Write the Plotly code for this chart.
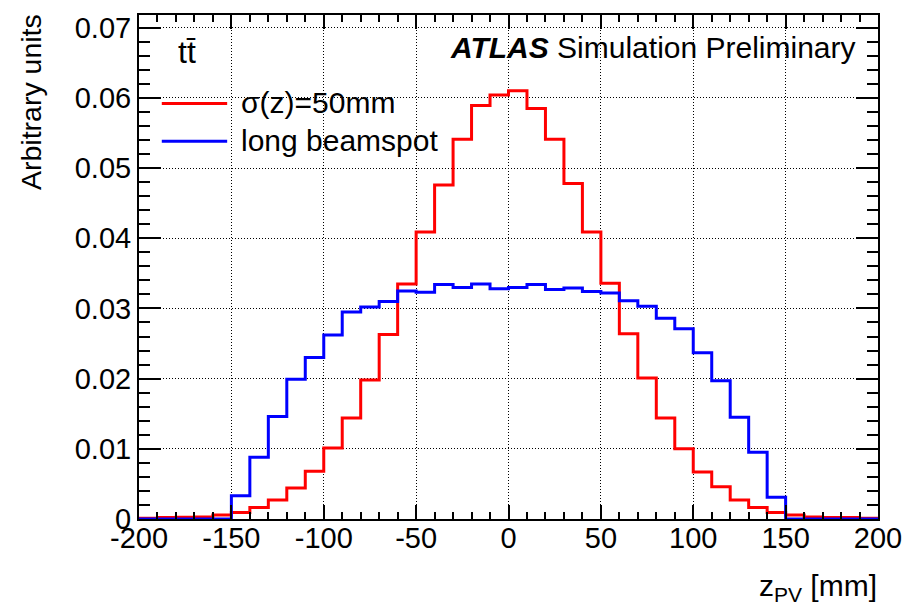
import plotly.graph_objects as go

# ---------------- data ----------------
bin_edges = list(range(-200, 201, 10))  # z_PV bin edges [mm]

sigma50mm = [
    0.0001, 0.0002, 0.00024, 0.00028, 0.00057, 0.00094, 0.00165, 0.0027, 0.0044, 0.0068,
    0.0101, 0.0144, 0.0198, 0.0263, 0.0335, 0.0409, 0.0476, 0.0541, 0.0589, 0.0604,
    0.0610, 0.0585, 0.0541, 0.0478, 0.0409, 0.0336, 0.0264, 0.0201, 0.0144, 0.0100,
    0.0067, 0.0046, 0.0027, 0.00165, 0.00094, 0.00057, 0.0003, 0.0002, 0.0002, 0.0001,
]

long_beamspot = [
    0.0, 0.0, 0.0, 0.0, 0.0, 0.0033, 0.0088, 0.0146, 0.0199, 0.0230,
    0.0262, 0.0295, 0.0302, 0.0310, 0.0325, 0.0323, 0.0334, 0.0330, 0.0335, 0.0328,
    0.0330, 0.0334, 0.0327, 0.0329, 0.0324, 0.0322, 0.0311, 0.0303, 0.0286, 0.0271,
    0.0237, 0.0197, 0.0145, 0.0095, 0.0031, 0.0, 0.0, 0.0, 0.0, 0.0,
]

x_tick_vals = [-200, -150, -100, -50, 0, 50, 100, 150, 200]
x_tick_text = ["-200", "-150", "-100", "-50", "0", "50", "100", "150", "200"]
y_tick_vals = [0, 0.01, 0.02, 0.03, 0.04, 0.05, 0.06, 0.07]
y_tick_text = ["0", "0.01", "0.02", "0.03", "0.04", "0.05", "0.06", "0.07"]

series_names = ["σ(z)=50mm", "long beamspot"]
series_colors = ["#ff0000", "#0000ff"]

# ---------------- geometry ----------------
W, H = 914, 606
ML, MR, MT, MB = 139, 29, 12, 87
PW = W - ML - MR
PH = H - MT - MB
FONT = "Liberation Sans, Arial, Helvetica, sans-serif"


def px(x):
    return (x - ML) / PW


def py(y):
    return (H - MB - y) / PH


fig = go.Figure()
for name, vals, col in zip(series_names, [sigma50mm, long_beamspot], series_colors):
    fig.add_trace(go.Scatter(
        x=bin_edges, y=vals + [vals[-1]], mode="lines", line_shape="hv",
        line=dict(color=col, width=3), name=name, showlegend=False,
    ))

axis_common = dict(
    showline=True, linecolor="black", linewidth=2, mirror="ticks",
    ticks="inside", tickcolor="black", tickwidth=1.5,
    showgrid=True, gridcolor="black", gridwidth=1, griddash="1px,2px",
    zeroline=False, tickfont=dict(family=FONT, size=29, color="black"),
)

fig.update_xaxes(
    range=[-200, 200], tickmode="array", tickvals=x_tick_vals, ticktext=x_tick_text,
    ticklen=14, ticklabelstandoff=-8,
    minor=dict(tickmode="linear", tick0=-200, dtick=10, ticks="inside", ticklen=7,
               tickcolor="black", tickwidth=1.5, showgrid=False),
    **axis_common,
)
fig.update_yaxes(
    range=[0, 0.07181], tickmode="array", tickvals=y_tick_vals, ticktext=y_tick_text,
    ticklen=22, ticklabelstandoff=0,
    minor=dict(tickmode="linear", tick0=0, dtick=0.002, ticks="inside", ticklen=11,
               tickcolor="black", tickwidth=1.5, showgrid=False),
    **axis_common,
)

annotations = [
    dict(text="Arbitrary units", x=px(30), y=py(9), xanchor="center", yanchor="top",
         textangle=-90, font=dict(size=28.5)),
    dict(text="z<sub>PV</sub> [mm]", x=px(886), y=py(588), xanchor="right", yanchor="middle",
         font=dict(size=30)),
    dict(text="<b><i>ATLAS</i></b> Simulation Preliminary", x=px(865), y=py(45),
         xanchor="right", yanchor="middle", font=dict(size=30)),
    dict(text="tt\u0304", x=px(187), y=py(49), xanchor="center", yanchor="middle",
         font=dict(size=32)),
    dict(text=series_names[0], x=px(240), y=py(100), xanchor="left", yanchor="middle",
         font=dict(size=30)),
    dict(text=series_names[1], x=px(240), y=py(138), xanchor="left", yanchor="middle",
         font=dict(size=30)),
]
for a in annotations:
    a.update(xref="paper", yref="paper", showarrow=False)
    a["font"].update(family=FONT, color="black")

shapes = [
    dict(type="line", xref="paper", yref="paper", x0=px(162), x1=px(228), y0=py(101), y1=py(101),
         line=dict(color=series_colors[0], width=3)),
    dict(type="line", xref="paper", yref="paper", x0=px(162), x1=px(228), y0=py(139), y1=py(139),
         line=dict(color=series_colors[1], width=3)),
]

fig.update_layout(
    width=W, height=H, margin=dict(l=ML, r=MR, t=MT, b=MB, pad=0),
    plot_bgcolor="white", paper_bgcolor="white",
    annotations=annotations, shapes=shapes, showlegend=False,
    font=dict(family=FONT, color="black"),
)

fig.write_html("out.html")
